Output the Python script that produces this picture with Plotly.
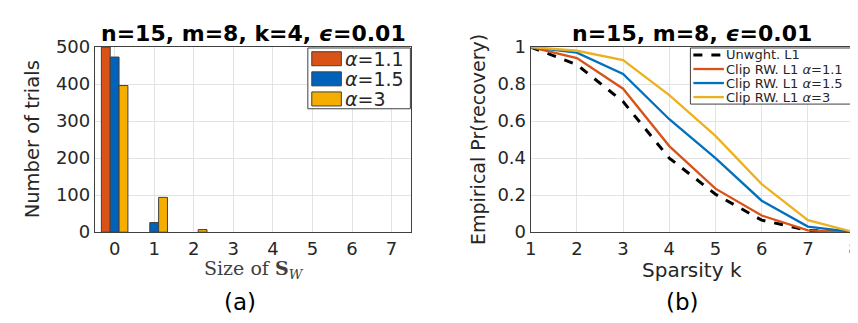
import plotly.graph_objects as go

# ---- data: panel (a) ----
sizes = [0, 1, 2, 3, 4, 5, 6, 7]
bar_names = ["<i>α</i>=1.1", "<i>α</i>=1.5", "<i>α</i>=3"]
trials_a11 = [500, 0, 0, 0, 0, 0, 0, 0]
trials_a15 = [473, 26, 0, 0, 0, 0, 0, 0]
trials_a3 = [396, 94, 7, 0, 0, 0, 0, 0]
bar_colors = ["#D95319", "#0062B8", "#F5AE00"]

# ---- data: panel (b) ----
sparsity = [1, 2, 3, 4, 5, 6, 7, 8]
line_names = ["Unwght. L1", "Clip RW. L1 <i>α</i>=1.1", "Clip RW. L1 <i>α</i>=1.5", "Clip RW. L1 <i>α</i>=3"]
rec_unw = [1.0, 0.905, 0.705, 0.40, 0.205, 0.065, 0.01, 0.0]
rec_a11 = [1.0, 0.94, 0.775, 0.465, 0.235, 0.09, 0.01, 0.0]
rec_a15 = [1.0, 0.97, 0.855, 0.61, 0.40, 0.17, 0.03, 0.0]
rec_a3 = [1.0, 0.98, 0.93, 0.74, 0.52, 0.26, 0.065, 0.0]
line_colors = ["#000000", "#D95319", "#0072BD", "#EDB120"]
line_dashes = ["dash", "solid", "solid", "solid"]

W, H = 858, 323
def px(x):
    return x / W
def py(y):
    return 1 - y / H

fig = go.Figure()
for vals, name, col in zip([trials_a11, trials_a15, trials_a3], bar_names, bar_colors):
    fig.add_trace(go.Bar(x=sizes, y=vals, name=name,
                         marker=dict(color=col, line=dict(color="#404040", width=[1 if v > 0 else 0 for v in vals])),
                         xaxis="x", yaxis="y", showlegend=False))

for vals, name, col, dash in zip([rec_unw, rec_a11, rec_a15, rec_a3], line_names, line_colors, line_dashes):
    fig.add_trace(go.Scatter(x=sparsity, y=vals, name=name, mode="lines",
                             line=dict(color=col, dash=dash, width=3 if dash == "dash" else 2.3),
                             xaxis="x2", yaxis="y2", showlegend=False))

tickfont = dict(family="DejaVu Sans", size=18, color="#262626")
grid = "#E3E3E3"
axcommon = dict(showline=True, mirror=True, linecolor="#404040", linewidth=1, gridcolor=grid,
                showgrid=True, zeroline=False, tickfont=tickfont, ticks="", fixedrange=True)

fig.update_layout(
    width=W, height=H,
    margin=dict(l=0, r=0, t=0, b=0),
    paper_bgcolor="white", plot_bgcolor="white",
    barmode="group", bargap=0.33, bargroupgap=0,
    showlegend=False,
    xaxis=dict(domain=[px(82), px(403)], range=[-0.5, 7.5], tickvals=sizes, anchor="y", **axcommon),
    yaxis=dict(domain=[py(228), py(30)], range=[0, 500], tickvals=[0, 100, 200, 300, 400, 500],
               anchor="x", **axcommon),
    xaxis2=dict(domain=[px(524), px(852)], range=[1, 8], tickvals=sparsity, anchor="y2", **axcommon),
    yaxis2=dict(domain=[py(228), py(30)], range=[0, 1], tickvals=[0, 0.2, 0.4, 0.6, 0.8, 1],
                ticktext=["0", "0.2", "0.4", "0.6", "0.8", "1"], anchor="x2", **axcommon),
)

shapes = []
ann = [
    dict(x=px(243), y=py(15), text="<b>n=15, m=8, k=4, <i>ϵ</i>=0.01</b>",
         font=dict(family="DejaVu Sans", size=22, color="#000")),
    dict(x=px(688), y=py(15), text="<b>n=15, m=8, <i>ϵ</i>=0.01</b>",
         font=dict(family="DejaVu Sans", size=22, color="#000")),
    dict(x=px(19), y=py(129), text="Number of trials", textangle=-90,
         font=dict(family="DejaVu Sans", size=19.5, color="#262626")),
    dict(x=px(470), y=py(129), text="Empirical Pr(recovery)", textangle=-90,
         font=dict(family="DejaVu Sans", size=19, color="#262626")),
    dict(x=px(243), y=py(268), text="Size of <b>S</b><i><sub>W</sub></i>",
         font=dict(family="DejaVu Serif", size=19, color="#404040")),
    dict(x=px(688), y=py(268), text="Sparsity k", font=dict(family="DejaVu Sans", size=20, color="#262626")),
    dict(x=px(229), y=py(303), text="(a)", font=dict(family="DejaVu Sans", size=23, color="#000")),
    dict(x=px(678), y=py(303), text="(b)", font=dict(family="DejaVu Sans", size=23, color="#000")),
]

# legend (a): box, swatches, labels
shapes.append(dict(type="rect", xref="paper", yref="paper", x0=px(298), x1=px(402), y0=py(96), y1=py(31),
                   fillcolor="white", line=dict(color="#404040", width=1), layer="above"))
for i, (name, col) in enumerate(zip(bar_names, bar_colors)):
    yc = 42.5 + 21.5 * i
    shapes.append(dict(type="rect", xref="paper", yref="paper", x0=px(302), x1=px(332), y0=py(yc + 7.5), y1=py(yc - 7.5),
                       fillcolor=col, line=dict(color="#404040", width=1), layer="above"))
    ann.append(dict(x=px(334), y=py(yc), text=name, xanchor="left",
                    font=dict(family="DejaVu Sans", size=19, color="#262626")))

# legend (b): box, line samples, labels
shapes.append(dict(type="rect", xref="paper", yref="paper", x0=px(686), x1=px(852), y0=py(91), y1=py(31),
                   fillcolor="white", line=dict(color="#404040", width=1), layer="above"))
for i, (name, col, dash) in enumerate(zip(line_names, line_colors, line_dashes)):
    yc = 38.5 + 15 * i
    shapes.append(dict(type="line", xref="paper", yref="paper", x0=px(689), x1=px(720), y0=py(yc), y1=py(yc),
                       line=dict(color=col, width=3 if dash == "dash" else 2.3, dash="dash" if dash == "dash" else "solid"),
                       layer="above"))
    ann.append(dict(x=px(720), y=py(yc), text=name, xanchor="left",
                    font=dict(family="DejaVu Sans", size=13, color="#262626")))

for a in ann:
    a.setdefault("xanchor", "center")
    a.update(xref="paper", yref="paper", showarrow=False, yanchor="middle")
fig.update_layout(annotations=ann, shapes=shapes)

fig.write_html("out.html")
